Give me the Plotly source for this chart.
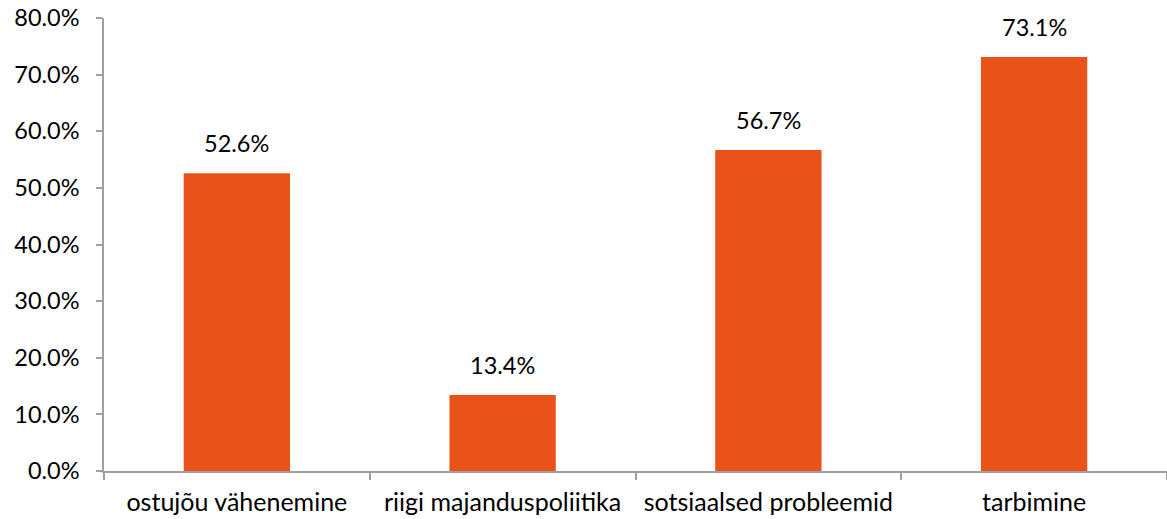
import plotly.graph_objects as go

categories = ["ostujõu vähenemine", "riigi majanduspoliitika", "sotsiaalsed probleemid", "tarbimine"]
values = [52.6, 13.4, 56.7, 73.1]
y_ticks = [0, 10, 20, 30, 40, 50, 60, 70, 80]
y_tick_labels = [f"{v:.1f}%" for v in y_ticks]

FONT = "Lato, 'Open Sans', sans-serif"
BAR_COLOR = "#E9531A"
AXIS_COLOR = "#A0A0A0"

fig = go.Figure()
fig.add_trace(go.Bar(
    x=categories, y=values, width=0.4,
    marker=dict(color=BAR_COLOR, line=dict(width=0)),
    hoverinfo="skip",
))

for c, v in zip(categories, values):
    fig.add_annotation(
        x=c, y=v, text=f"{v:.1f}%", showarrow=False,
        yshift=30, font=dict(family=FONT, size=23.5, color="#000000"),
    )

fig.update_layout(
    width=1167, height=519,
    margin=dict(l=104, r=0, t=18, b=48),
    plot_bgcolor="white", paper_bgcolor="white",
    showlegend=False,
    bargap=0.6,
    font=dict(family=FONT, size=23.5, color="#000000"),
)
fig.update_xaxes(
    showline=True, linecolor=AXIS_COLOR, linewidth=1.5,
    ticks="outside", tickson="boundaries", ticklen=7, tickcolor=AXIS_COLOR,
    tickwidth=1.5, showgrid=False, tickfont=dict(size=25, family=FONT),
    ticklabelstandoff=8,
)
fig.update_yaxes(
    range=[0, 80], tickvals=y_ticks, ticktext=y_tick_labels,
    showline=True, linecolor=AXIS_COLOR, linewidth=1.5,
    ticks="outside", ticklen=6, tickcolor=AXIS_COLOR, tickwidth=1.5,
    showgrid=False, zeroline=False, tickfont=dict(size=23.5, family=FONT),
    ticklabelstandoff=12,
)

fig.write_html("out.html")
